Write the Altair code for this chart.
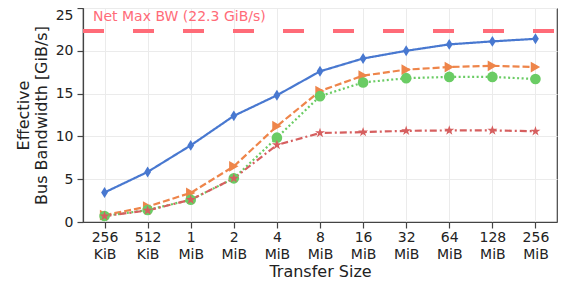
import altair as alt
import pandas as pd

sizes = ["256 KiB", "512 KiB", "1 MiB", "2 MiB", "4 MiB", "8 MiB", "16 MiB",
         "32 MiB", "64 MiB", "128 MiB", "256 MiB"]
series_names = ["A", "B", "C", "D"]
blue_vals = [3.45, 5.85, 8.95, 12.4, 14.8, 17.6, 19.1, 20.0, 20.75, 21.1, 21.4]
orange_vals = [0.8, 1.8, 3.4, 6.5, 11.2, 15.3, 17.1, 17.8, 18.1, 18.25, 18.1]
green_vals = [0.7, 1.4, 2.6, 5.1, 9.85, 14.7, 16.3, 16.8, 16.95, 16.95, 16.7]
red_vals = [0.7, 1.35, 2.6, 5.1, 9.0, 10.4, 10.5, 10.65, 10.7, 10.7, 10.6]
net_max = 22.3
net_label = "Net Max BW (22.3 GiB/s)"

colors = ["#4878d0", "#ee854a", "#6acc64", "#d65f5f"]
dashes = [[1, 0], [7, 3], [2, 2.5], [7, 3, 2, 3]]
diamond = "M0,-1L0.62,0L0,1L-0.62,0Z"
star = ("M0,-1L0.2245,-0.309L0.951,-0.309L0.363,0.118L0.588,0.809L0,0.382"
        "L-0.588,0.809L-0.363,0.118L-0.951,-0.309L-0.2245,-0.309Z")
shapes = [diamond, "triangle-right", "circle", star]
msizes = [120, 110, 70, 80]

rows = []
for name, vals in zip(series_names, [blue_vals, orange_vals, green_vals, red_vals]):
    for s, v in zip(sizes, vals):
        rows.append({"size": s, "bw": v, "series": name})
df = pd.DataFrame(rows)

x_enc = alt.X("size:N", sort=sizes,
              scale=alt.Scale(type="point", padding=0.5),
              axis=alt.Axis(title="Transfer Size", labelAngle=0,
                            labelExpr="split(datum.label, ' ')",
                            labelLineHeight=17, labelPadding=2,
                            titlePadding=2, grid=True))
y_enc = alt.Y("bw:Q", scale=alt.Scale(domain=[0, 25], nice=False),
              axis=alt.Axis(title=["Effective", "Bus Bandwidth [GiB/s]"],
                            values=[0, 5, 10, 15, 20, 25], labelPadding=4,
                            labelOffset={"condition": {"test": "datum.value == 25", "value": 7.5},
                                         "value": 0},
                            titlePadding=6, grid=True))
col = alt.Color("series:N", scale=alt.Scale(domain=series_names, range=colors), legend=None)

lines = alt.Chart(df).mark_line(strokeWidth=2.2).encode(
    x=x_enc, y=y_enc, color=col,
    strokeDash=alt.StrokeDash("series:N", scale=alt.Scale(domain=series_names, range=dashes), legend=None),
)
points = alt.Chart(df).mark_point(filled=True, opacity=1).encode(
    x=alt.X("size:N", sort=sizes), y="bw:Q", color=col,
    shape=alt.Shape("series:N", scale=alt.Scale(domain=series_names, range=shapes), legend=None),
    size=alt.Size("series:N", scale=alt.Scale(domain=series_names, range=msizes), legend=None),
)

ref_df = pd.DataFrame({"bw": [net_max], "label": [net_label]})
ref = alt.Chart(ref_df).mark_rule(color="#ff6b78", strokeWidth=4, strokeDash=[21, 29]).encode(
    y="bw:Q", x=alt.value(0), x2=alt.value(474))
ref_text = alt.Chart(ref_df).mark_text(color="#ff6b78", fontSize=14, align="left",
                                       baseline="middle", font="DejaVu Sans").encode(
    y=alt.value(9), x=alt.value(10), text="label:N")

chart = alt.layer(ref, lines, points, ref_text).properties(
    width=474, height=214,
    autosize=alt.AutoSizeParams(type="none"),
    padding={"left": 75, "top": 0, "right": 9, "bottom": 60},
).configure_axis(
    labelFont="DejaVu Sans", titleFont="DejaVu Sans",
    labelFontSize=14, titleFontSize=16, titleFontWeight="normal",
    labelColor="#222", titleColor="#222",
    domainColor="#444", tickColor="#444", tickSize=6, tickWidth=1.2, domainWidth=1.2,
    gridColor="#ebebeb", gridWidth=1,
).configure_view(stroke="#444", strokeWidth=1.2)

chart.save("out.html", embed_options={"renderer": "svg", "actions": False})
